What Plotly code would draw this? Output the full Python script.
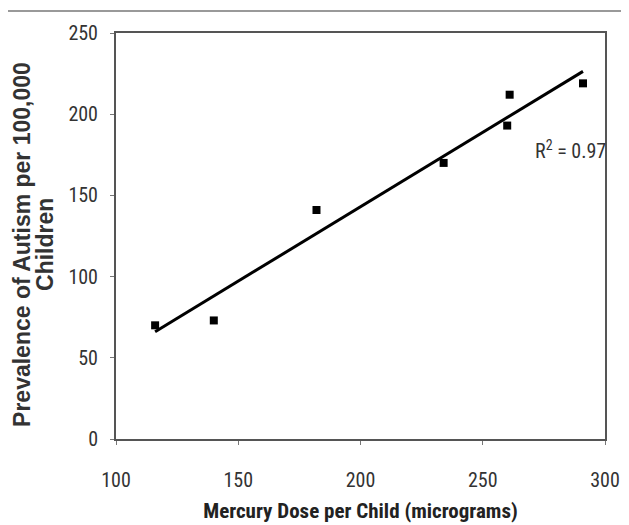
import numpy as np
import plotly.graph_objects as go

mercury_dose = [116, 140, 182, 234, 260, 261, 291]
autism_prevalence = [70, 73, 141, 170, 193, 212, 219]
x_ticks = [100, 150, 200, 250, 300]
y_ticks = [0, 50, 100, 150, 200, 250]
y_title_lines = ["Prevalence of Autism per 100,000", "Children"]
x_title = "Mercury Dose per Child (micrograms)"
r2_label = "R<sup>2</sup> = 0.97"

slope, intercept = np.polyfit(mercury_dose, autism_prevalence, 1)
fit_x = [min(mercury_dose), max(mercury_dose)]
fit_y = [slope * v + intercept for v in fit_x]

NARROW = "Roboto Condensed, Liberation Sans, sans-serif"

PLOT_W = 489

fig = go.Figure()
fig.add_trace(go.Scatter(x=fit_x, y=fit_y, mode="lines",
                         line=dict(color="black", width=3), showlegend=False))
fig.add_trace(go.Scatter(x=mercury_dose, y=autism_prevalence, mode="markers",
                         marker=dict(symbol="square", size=8, color="black"),
                         showlegend=False))

axis_common = dict(showgrid=False, zeroline=False, showline=True, mirror=True,
                   linecolor="#555555", linewidth=2, ticks="outside", ticklen=4,
                   tickcolor="#777777", tickwidth=1, automargin=False,
                   tickfont=dict(family=NARROW, size=20, color="#333333"))

fig.update_xaxes(range=[100, 300], tickvals=x_ticks, ticklabelstandoff=18,
                 ticklabeloverflow="allow",
                 title=dict(text=x_title,
                            font=dict(family=NARROW, size=21, color="#222222",
                                      weight="bold"),
                            standoff=12),
                 **axis_common)
fig.update_yaxes(range=[0, 250], tickvals=y_ticks, ticklabelstandoff=8,
                 **axis_common)

for line_text, fx in zip(y_title_lines, [14, 37]):
    fig.add_annotation(text="<b>" + line_text + "</b>",
                       xref="paper", yref="paper", x=(fx - 108) / PLOT_W, y=0.478,
                       xanchor="center", yanchor="middle", textangle=-90,
                       showarrow=False,
                       font=dict(family="Liberation Sans, Arial, sans-serif",
                                 size=23, color="#333333"))

fig.add_annotation(text=r2_label, xref="paper", yref="paper",
                   x=(562 - 108) / PLOT_W, y=0.712,
                   xanchor="center", yanchor="middle", showarrow=False,
                   font=dict(family=NARROW, size=20, color="#333333"))

fig.add_shape(type="line", xref="paper", yref="paper",
              x0=(0 - 108) / PLOT_W, x1=(621 - 108) / PLOT_W,
              y0=(406 + 22) / 406, y1=(406 + 22) / 406,
              line=dict(color="#999999", width=2))

fig.update_layout(width=621, height=517,
                  margin=dict(l=108, r=621 - 108 - PLOT_W, t=25, b=86),
                  paper_bgcolor="white", plot_bgcolor="white")

fig.write_html("out.html")
